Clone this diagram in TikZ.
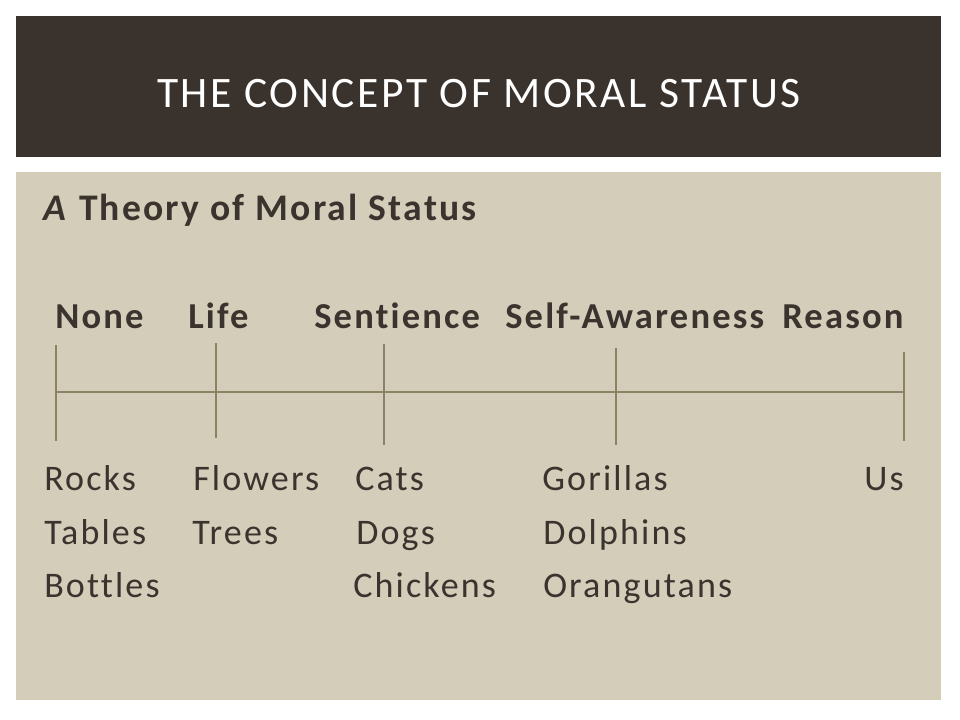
\documentclass[tikz,border=0pt]{standalone}
\usepackage{fontspec}
\setmainfont{Carlito}
\newfontfamily\slidefont[LetterSpace=6,Ligatures=NoCommon]{Carlito}

\definecolor{barbrown}{HTML}{3A322C}
\definecolor{panel}{HTML}{D3CDBA}
\definecolor{ink}{HTML}{3B332D}
\definecolor{rule}{HTML}{8C8263}

\begin{document}
\begin{tikzpicture}[x=0.75pt,y=-0.75pt,
  txt/.style={anchor=base west,inner sep=0pt,text=ink,
    font=\slidefont\fontsize{27}{32}\selectfont},
  hdr/.style={txt,font=\slidefont\bfseries\fontsize{27.4}{32}\selectfont},
  axis/.style={draw=rule,line width=0.8pt}]
  \useasboundingbox (0,0) rectangle (960,720);
  \fill[white] (0,0) rectangle (960,720);

  % title bar and panel
  \fill[barbrown] (16,16) rectangle (941,157);
  \fill[panel] (16,172) rectangle (941,700);
  \node[anchor=base,inner sep=0pt,text=white,
    font=\slidefont\fontsize{32.6}{38}\selectfont] (title) at (479,108)
    {THE CONCEPT OF MORAL STATUS};

  \node[hdr,font=\slidefont\bfseries\fontsize{28.2}{32}\selectfont]
    (theory) at (43,221) {\textit{A} Theory of Moral Status};

  % levels
  \node[hdr] (none) at (55,328) {None};
  \node[hdr] (life) at (188,328) {Life};
  \node[hdr] (sent) at (314,328) {Sentience};
  \node[hdr] (self) at (505,328) {Self-Awareness};
  \node[hdr] (reason) at (782,328) {Reason};

  % scale
  \coordinate (noneTop) at (56,345);   \coordinate (noneBot) at (56,441);
  \coordinate (lifeTop) at (216,343);  \coordinate (lifeBot) at (216,438);
  \coordinate (sentTop) at (384,344);  \coordinate (sentBot) at (384,445);
  \coordinate (selfTop) at (616,348);  \coordinate (selfBot) at (616,445);
  \coordinate (reasTop) at (904,352);  \coordinate (reasBot) at (904,441);
  \coordinate (axL) at (56,392);       \coordinate (axR) at (904,392);
  \draw[axis] (axL) -- (axR);
  \draw[axis] (noneTop) -- (noneBot);
  \draw[axis] (lifeTop) -- (lifeBot);
  \draw[axis] (sentTop) -- (sentBot);
  \draw[axis] (selfTop) -- (selfBot);
  \draw[axis] (reasTop) -- (reasBot);

  % examples
  \node[txt] (rocks) at (44,490) {Rocks};
  \node[txt] (tables) at (44,544) {Tables};
  \node[txt] (bottles) at (44,597) {Bottles};
  \node[txt] (flowers) at (193,490) {Flowers};
  \node[txt] (trees) at (192,544) {Trees};
  \node[txt] (cats) at (355,490) {Cats};
  \node[txt] (dogs) at (356,544) {Dogs};
  \node[txt] (chickens) at (353,597) {Chickens};
  \node[txt] (gorillas) at (542,490) {Gorillas};
  \node[txt] (dolphins) at (543,544) {Dolphins};
  \node[txt] (orangutans) at (543,597) {Orangutans};
  \node[txt] (us) at (864,490) {Us};
\end{tikzpicture}
\end{document}
